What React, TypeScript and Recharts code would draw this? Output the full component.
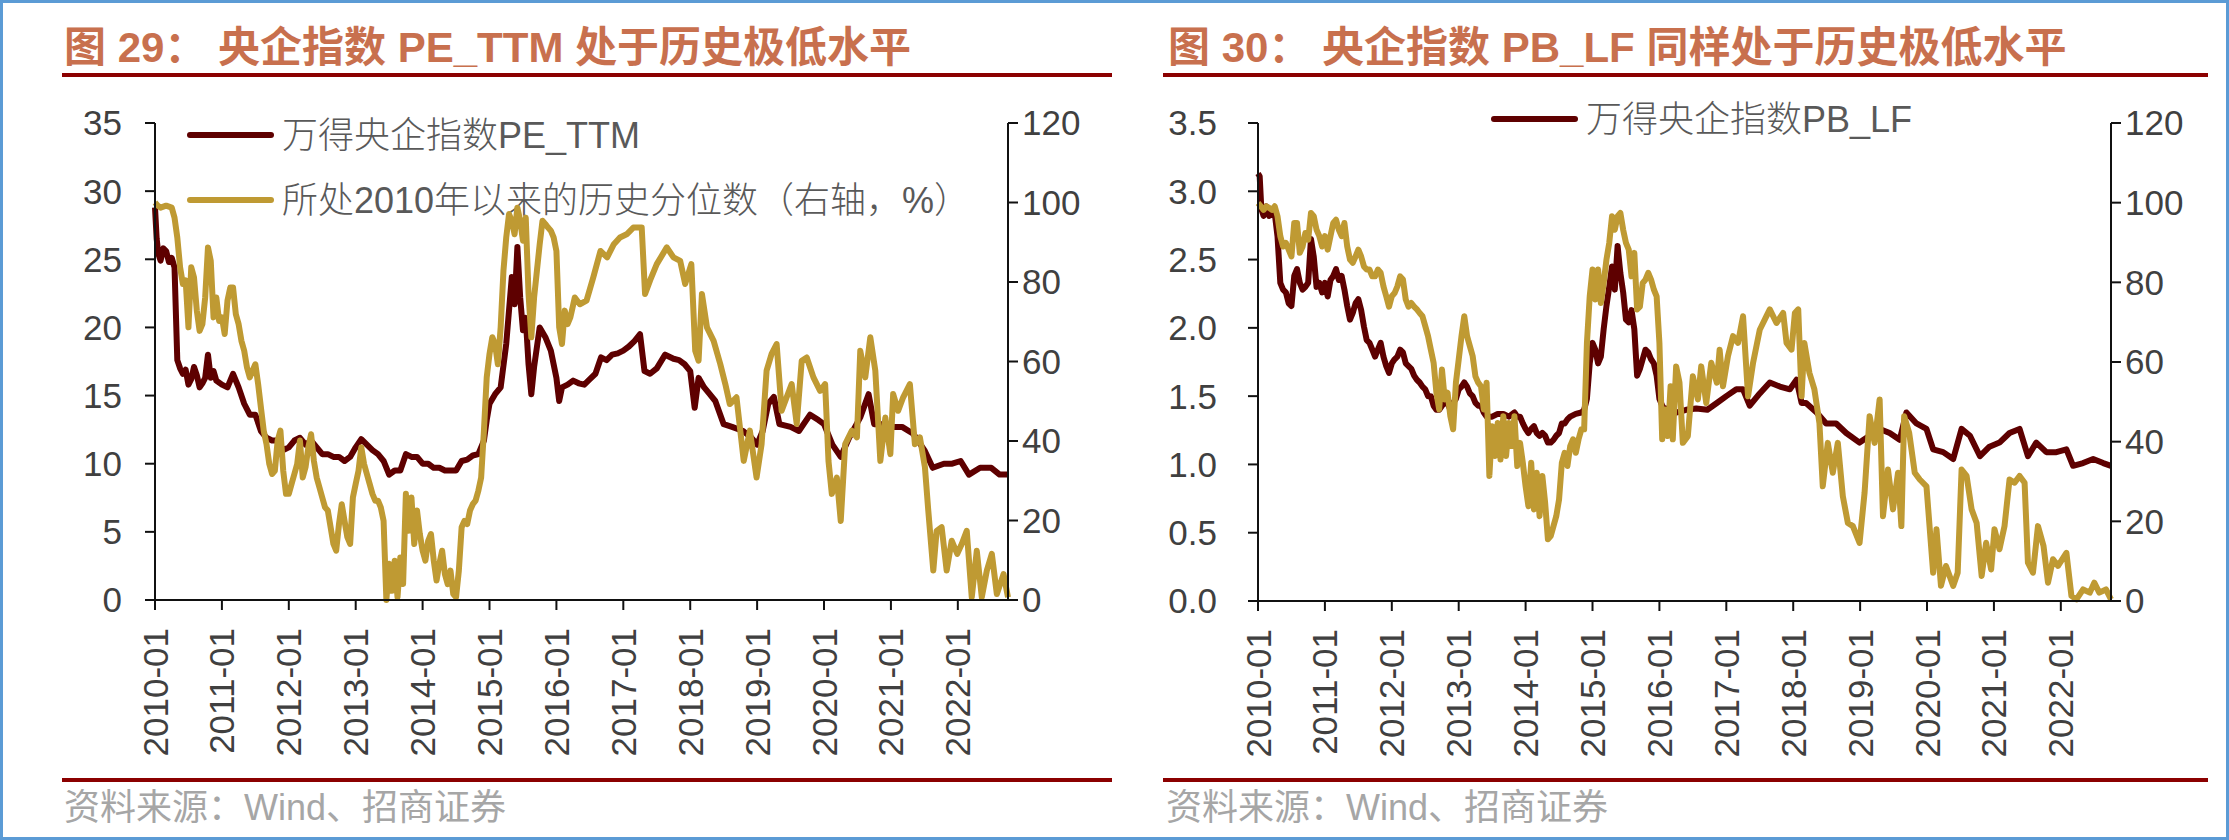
import React from 'react';
import { LineChart, Line, XAxis, YAxis } from 'recharts';

// x = months since 2010-01
const yearTicks = [0, 12, 24, 36, 48, 60, 72, 84, 96, 108, 120, 132, 144];
const yearLabels = [
  '2010-01', '2011-01', '2012-01', '2013-01', '2014-01', '2015-01', '2016-01',
  '2017-01', '2018-01', '2019-01', '2020-01', '2021-01', '2022-01',
];

const peTicks = [0, 5, 10, 15, 20, 25, 30, 35];
const pbTicks = [0, 0.5, 1, 1.5, 2, 2.5, 3, 3.5];
const pctTicks = [0, 20, 40, 60, 80, 100, 120];

// 万得央企指数PE_TTM
const peTtm: [number, number][] = [
  [0, 28.8], [0.3, 26.5], [0.6, 25.4], [1, 24.9], [1.5, 25.8], [2, 25.6], [2.5, 24.8], [3, 25.1],
  [3.5, 24.4], [4, 17.6], [4.5, 17.0], [5, 16.6], [5.5, 16.9], [6, 15.8], [6.5, 16.2], [7, 17.1],
  [7.5, 16.5], [8, 15.6], [8.5, 15.9], [9, 16.3], [9.5, 18.0], [10, 16.3], [10.5, 16.8], [11, 16.1],
  [12, 15.8], [13, 15.6], [14, 16.6], [15, 15.6], [16, 14.4], [17, 13.6], [18, 13.6], [19, 12.4],
  [20, 11.9], [21, 11.7], [22, 11.7], [23, 11.0], [24, 11.2], [25, 11.7], [26, 11.9], [27, 11.4],
  [28, 11.7], [29, 11.2], [30, 10.7], [31, 10.7], [32, 10.5], [33, 10.5], [34, 10.2], [35, 10.5],
  [36, 11.2], [37, 11.8], [38, 11.4], [39, 11.0], [40, 10.7], [41, 10.2], [42, 9.2], [43, 9.5],
  [44, 9.5], [45, 10.7], [46, 10.5], [47, 10.5], [48, 10.0], [49, 10.0], [50, 9.7], [51, 9.7],
  [52, 9.5], [53, 9.5], [54, 9.5], [55, 10.2], [56, 10.3], [57, 10.6], [58, 10.7], [59, 11.7],
  [59.5, 13.2], [60, 14.4], [61, 15.1], [62, 15.6], [63, 18.8], [64, 23.7], [64.5, 21.7], [65, 25.9],
  [65.5, 22.2], [66, 19.8], [66.5, 20.7], [67, 17.3], [67.5, 15.1], [68, 17.1], [69, 20.0], [70, 19.3],
  [71, 18.3], [72, 16.3], [72.5, 14.6], [73, 15.6], [74, 15.8], [75, 16.1], [76, 15.9], [77, 15.8],
  [78, 16.2], [79, 16.6], [80, 17.8], [81, 17.6], [82, 18.0], [83, 18.1], [84, 18.3], [85, 18.6],
  [86, 19.0], [87, 19.5], [87.8, 16.8], [88.8, 16.6], [90, 17.0], [91.5, 18.0], [93, 17.7], [94, 17.6],
  [95, 17.3], [96, 16.8], [96.8, 14.1], [97.5, 16.3], [98.5, 15.6], [99.5, 15.1], [100.5, 14.6], [102, 12.9],
  [103.5, 12.7], [105.5, 12.4], [107, 11.9], [108, 11.4], [109, 12.4], [110, 14.4], [111, 14.9], [112, 12.9],
  [114, 12.7], [115.5, 12.4], [117.5, 13.6], [119, 13.2], [120, 12.9], [121.5, 11.4], [123, 10.5], [124.5, 11.9],
  [126.5, 13.4], [128, 15.1], [129, 12.9], [130.5, 12.9], [132, 12.7], [134, 12.7], [136, 12.2], [138, 11.0],
  [139.5, 9.7], [141.5, 10.0], [143, 10.0], [144.5, 10.2], [146, 9.2], [148, 9.7], [150, 9.7], [151.5, 9.2],
  [153, 9.2],
];

// 所处2010年以来的历史分位数（PE，右轴，%）
const pePct: [number, number][] = [
  [0, 100], [0.5, 99.2], [1, 98.7], [2, 99.2], [3, 98.7], [3.5, 96.2], [4, 91.2], [4.5, 83.7],
  [5, 79.5], [5.5, 80.4], [6, 68.6], [6.5, 83.7], [7, 81.1], [7.5, 72.8], [8, 67.7], [8.5, 69.4],
  [9, 76.1], [9.5, 88.7], [10, 85.3], [10.5, 71.1], [11, 76.1], [11.5, 70.2], [12, 71.1], [12.5, 66.9],
  [13, 75.3], [13.5, 78.6], [14, 78.6], [14.5, 71.9], [15, 69.4], [15.5, 65.2], [16, 62.7], [16.5, 58.5],
  [17, 56.0], [17.5, 57.7], [18, 59.3], [18.5, 54.3], [19, 48.4], [19.5, 42.6], [20, 39.2], [20.5, 34.2],
  [21, 31.7], [21.5, 32.5], [22, 40.1], [22.5, 42.6], [23, 32.5], [23.5, 26.7], [24, 26.7], [24.5, 29.2],
  [25, 31.7], [25.5, 34.2], [26, 40.1], [26.5, 30.8], [27, 33.4], [27.5, 38.4], [28, 41.7], [28.5, 35.0],
  [29, 30.8], [29.5, 28.3], [30, 25.8], [30.5, 23.3], [31, 22.5], [31.5, 18.3], [32, 14.1], [32.5, 12.4],
  [33, 19.1], [33.5, 24.1], [34, 19.9], [34.5, 15.8], [35, 14.1], [35.5, 25.8], [36, 29.2], [36.5, 32.5],
  [37, 38.4], [37.5, 34.2], [38, 31.7], [38.5, 29.2], [39, 26.7], [39.5, 25.0], [40, 25.0], [40.5, 23.3],
  [41, 19.9], [41.5, 0], [42, 9.1], [42.5, 2.3], [43, 9.9], [43.5, 0.7], [44, 10.7], [44.5, 4.0],
  [45, 26.7], [45.5, 17.4], [46, 25.8], [46.5, 14.1], [47, 22.5], [47.5, 16.6], [48, 12.4], [48.5, 9.9],
  [49, 14.9], [49.5, 16.6], [50, 9.9], [50.5, 4.9], [51, 9.1], [51.5, 12.4], [52, 6.5], [52.5, 4.0],
  [53, 7.4], [53.5, 1.5], [54, 0.7], [54.5, 7.4], [55, 18.3], [55.5, 19.9], [56, 19.1], [56.5, 22.5],
  [57, 24.1], [57.5, 25.0], [58, 27.5], [58.5, 30.8], [59, 42.6], [59.5, 56.0], [60, 61.9], [60.5, 66.1],
  [61, 64.4], [61.5, 59.3], [62, 68.6], [62.5, 82.8], [63, 91.2], [63.5, 97.1], [64, 95.4], [64.5, 92.0],
  [65, 98.7], [65.5, 95.4], [66, 90.4], [66.5, 96.2], [67, 77.0], [67.5, 66.1], [68, 76.1], [68.5, 82.8],
  [69, 89.5], [69.5, 95.4], [70, 94.6], [70.5, 93.7], [71, 92.9], [71.5, 91.2], [72, 87.8], [72.5, 68.6],
  [73, 64.4], [73.5, 72.8], [74, 69.4], [74.5, 71.1], [75.3, 76.1], [76.2, 74.4], [77.4, 75.3], [78.6, 81.1],
  [79.9, 87.8], [81.1, 86.2], [82.3, 89.5], [83.4, 91.2], [84.6, 92.0], [85.8, 93.7], [87.3, 93.7], [87.9, 77.0],
  [88.8, 80.4], [90, 84.5], [91.8, 88.7], [93, 86.2], [94.2, 85.3], [95.1, 79.5], [96.2, 84.5], [96.9, 62.7],
  [97.5, 60.2], [98.1, 77.0], [99, 68.6], [100.2, 65.2], [101.4, 59.3], [102.3, 54.3], [103.1, 49.3], [104.3, 51.0],
  [105.6, 35.0], [106.7, 42.6], [107.9, 30.8], [108.8, 39.2], [109.7, 57.7], [110.6, 61.9], [111.5, 64.4], [112.4, 47.6],
  [113.3, 51.0], [114.2, 54.3], [115.1, 44.3], [116, 60.2], [116.9, 61.0], [118.1, 56.0], [119.3, 52.6], [120.2, 54.3],
  [120.8, 35.0], [121.4, 26.7], [122.3, 30.8], [123, 19.9], [123.8, 39.2], [125, 42.6], [125.9, 40.9], [126.5, 62.7],
  [127.4, 56.0], [128.3, 66.1], [129.2, 57.7], [130.1, 35.0], [131, 45.9], [131.9, 36.7], [132.4, 51.8], [133.3, 47.6],
  [134.2, 51.0], [135.4, 54.3], [136.3, 39.2], [137.2, 40.9], [138.1, 33.4], [138.7, 22.5], [139.6, 7.4], [140.2, 17.4],
  [141.1, 18.3], [142, 7.4], [142.9, 14.9], [143.9, 11.6], [144.7, 14.1], [145.6, 17.4], [146.5, 0.7], [147.4, 12.4],
  [148.3, 0.7], [149.2, 7.4], [150.1, 11.6], [151, 1.5], [152.2, 6.5], [153, 0.7],
];

// 万得央企指数PB_LF
const pbLf: [number, number][] = [
  [0, 3.13], [0.3, 3.11], [0.6, 2.87], [1, 2.82], [1.5, 2.89], [2, 2.82], [3, 2.84], [3.5, 2.67],
  [4, 2.33], [4.5, 2.28], [5, 2.26], [5.5, 2.18], [6, 2.16], [6.5, 2.38], [7, 2.43], [7.5, 2.33],
  [8, 2.28], [8.5, 2.30], [9, 2.33], [9.5, 2.65], [10, 2.52], [10.5, 2.30], [11, 2.33], [11.5, 2.26],
  [12, 2.33], [12.5, 2.23], [13, 2.35], [13.5, 2.38], [14, 2.43], [14.5, 2.35], [15, 2.38], [15.5, 2.28],
  [16, 2.16], [16.5, 2.06], [17, 2.11], [17.5, 2.18], [18, 2.21], [18.5, 2.13], [19, 2.01], [19.5, 1.91],
  [20, 1.89], [20.5, 1.84], [21, 1.79], [21.5, 1.84], [22, 1.89], [22.5, 1.79], [23, 1.72], [23.5, 1.67],
  [24, 1.74], [24.5, 1.77], [25, 1.79], [25.5, 1.84], [26, 1.82], [26.5, 1.74], [27, 1.72], [27.5, 1.70],
  [28, 1.65], [28.5, 1.62], [29, 1.60], [29.5, 1.57], [30, 1.55], [30.5, 1.50], [31, 1.50], [31.5, 1.43],
  [32, 1.40], [32.5, 1.40], [33, 1.43], [33.5, 1.45], [34, 1.45], [34.5, 1.40], [35, 1.45], [35.5, 1.48],
  [36, 1.55], [36.5, 1.57], [37, 1.60], [37.5, 1.57], [38, 1.52], [38.5, 1.50], [39, 1.45], [39.5, 1.43],
  [40, 1.43], [40.5, 1.38], [41, 1.35], [42, 1.35], [43, 1.37], [44, 1.37], [45, 1.35], [46, 1.38],
  [46.5, 1.35], [47, 1.35], [47.5, 1.30], [48, 1.26], [48.5, 1.23], [49, 1.26], [49.5, 1.28], [50, 1.23],
  [50.5, 1.21], [51, 1.23], [51.5, 1.21], [52, 1.16], [52.5, 1.16], [53, 1.18], [53.5, 1.21], [54, 1.23],
  [54.5, 1.30], [55, 1.30], [55.5, 1.33], [56, 1.35], [57, 1.37], [58, 1.38], [58.5, 1.40], [59, 1.48],
  [59.5, 1.74], [60, 1.89], [60.5, 1.84], [61, 1.74], [61.5, 1.79], [62, 1.99], [62.5, 2.16], [63, 2.30],
  [63.5, 2.45], [64, 2.28], [64.5, 2.60], [65, 2.40], [65.5, 2.26], [66, 2.06], [66.5, 2.04], [67, 2.13],
  [67.5, 1.99], [68, 1.65], [68.5, 1.70], [69, 1.77], [69.5, 1.84], [70, 1.82], [70.5, 1.77], [71, 1.74],
  [71.5, 1.65], [72, 1.48], [72.5, 1.43], [73, 1.40], [74, 1.42], [75, 1.38], [76.8, 1.40], [78.6, 1.41],
  [80.6, 1.40], [82.3, 1.45], [84, 1.50], [85.8, 1.55], [87, 1.55], [88.2, 1.43], [90, 1.52], [91.8, 1.60],
  [93.6, 1.57], [95.4, 1.55], [96.6, 1.62], [97.5, 1.45], [98.3, 1.45], [100.2, 1.38], [101.9, 1.30], [103.7, 1.30],
  [105.5, 1.23], [107.9, 1.16], [109.7, 1.21], [111.5, 1.26], [113.3, 1.23], [115.1, 1.18], [116.3, 1.38], [118.1, 1.30],
  [119.9, 1.26], [121.1, 1.11], [122.9, 1.09], [124.7, 1.04], [126.2, 1.26], [127.7, 1.21], [129.5, 1.06], [131.2, 1.13],
  [133, 1.16], [134.8, 1.23], [136.6, 1.26], [138.1, 1.06], [139.6, 1.16], [141.4, 1.09], [143.2, 1.09], [145, 1.11],
  [146.2, 0.99], [148, 1.01], [149.8, 1.04], [151.6, 1.01], [153, 0.99],
];

// 所处2010年以来的历史分位数（PB，右轴，%）
const pbPct: [number, number][] = [
  [0, 99.9], [0.5, 99.1], [1, 98.2], [1.5, 99.1], [2, 98.7], [2.5, 98.2], [3, 99.1], [3.5, 96.6],
  [4, 91.6], [4.5, 89.0], [5, 89.9], [5.5, 88.2], [6, 86.5], [6.5, 94.9], [7, 94.9], [7.5, 87.4],
  [8, 89.0], [8.5, 92.4], [9, 90.7], [9.5, 97.4], [10, 96.6], [10.5, 93.2], [11, 91.6], [11.5, 89.0],
  [12, 91.6], [12.5, 88.2], [13, 91.6], [13.5, 94.9], [14, 95.7], [14.5, 93.2], [15, 91.6], [15.5, 94.9],
  [16, 89.0], [16.5, 85.7], [17, 84.9], [17.5, 86.5], [18, 88.2], [18.5, 86.5], [19, 84.0], [19.5, 83.2],
  [20, 83.2], [20.5, 81.5], [21, 81.5], [21.5, 83.2], [22, 82.4], [22.5, 79.0], [23, 76.5], [23.5, 73.9],
  [24, 76.5], [24.5, 77.3], [25, 79.0], [25.5, 81.5], [26, 80.7], [26.5, 75.7], [27, 73.9], [27.5, 74.8],
  [28, 73.9], [28.5, 73.2], [29, 72.3], [29.5, 71.5], [30, 69.0], [30.5, 66.5], [31, 63.1], [31.5, 59.8],
  [32, 52.3], [32.5, 48.1], [33, 58.1], [33.5, 50.6], [34, 52.3], [34.5, 46.4], [35, 43.1], [35.5, 54.8],
  [36, 60.6], [36.5, 66.5], [37, 71.5], [37.5, 66.5], [38, 64.0], [38.5, 61.5], [39, 56.4], [39.5, 54.8],
  [40, 53.9], [40.5, 48.1], [41, 54.8], [41.5, 31.4], [42, 43.9], [42.5, 36.4], [43, 44.7], [43.5, 35.5],
  [44, 46.4], [44.5, 36.4], [45, 44.7], [45.5, 38.9], [46, 46.4], [46.5, 33.9], [47, 39.7], [47.5, 34.7],
  [48, 28.8], [48.5, 23.8], [49, 34.7], [49.5, 23.0], [50, 32.2], [50.5, 21.3], [51, 31.4], [51.5, 24.7],
  [52, 15.5], [52.5, 16.3], [53, 18.8], [53.5, 21.3], [54, 25.5], [54.5, 34.7], [55, 37.2], [55.5, 33.9],
  [56, 38.9], [56.5, 40.6], [57, 37.2], [57.5, 40.6], [58, 43.1], [58.5, 43.1], [59, 64.8], [59.5, 76.5],
  [60, 83.2], [60.5, 75.7], [61, 83.2], [61.5, 74.8], [62, 79.8], [62.5, 85.7], [63, 89.9], [63.5, 96.6],
  [64, 93.2], [64.5, 96.6], [65, 97.4], [65.5, 93.2], [66, 89.9], [66.5, 88.2], [67, 81.5], [67.5, 87.4],
  [68, 73.2], [68.5, 73.9], [69, 79.8], [69.5, 80.7], [70, 82.4], [70.5, 80.7], [71, 78.2], [71.5, 76.5],
  [72, 64.8], [72.5, 40.6], [73, 48.1], [73.5, 41.4], [74, 53.9], [74.4, 40.6], [75, 58.9], [75.6, 54.8],
  [76.2, 39.7], [77.1, 41.4], [78, 56.4], [78.9, 50.6], [79.5, 58.9], [80.4, 49.7], [81.3, 59.8], [82.3, 54.8],
  [82.8, 63.1], [83.4, 53.9], [84.3, 61.5], [85.2, 66.5], [86.1, 64.8], [87, 71.5], [87.9, 51.4], [88.8, 59.8],
  [90, 68.1], [91.2, 71.5], [91.8, 73.2], [93, 69.8], [94.2, 72.3], [94.8, 64.8], [95.7, 63.1], [96.3, 72.3],
  [96.9, 73.2], [97.5, 51.4], [98, 64.8], [98.9, 57.3], [99.8, 53.1], [100.7, 44.7], [101.3, 28.8], [102.2, 39.7],
  [103.1, 32.2], [104, 39.7], [104.9, 26.3], [105.8, 19.6], [106.7, 18.8], [107.9, 14.6], [108.8, 27.2], [109.7, 46.4],
  [110.6, 39.7], [111.5, 50.6], [112.1, 21.3], [113, 33.0], [113.9, 23.0], [114.8, 32.2], [115.4, 18.8], [115.9, 46.4],
  [116.8, 42.2], [117.8, 32.2], [118.7, 30.5], [119.9, 28.8], [121.1, 7.1], [121.7, 18.0], [122.5, 3.8], [123.4, 8.8],
  [124.7, 3.8], [125.5, 7.1], [126.2, 33.0], [127.1, 31.4], [128, 23.0], [128.9, 19.6], [129.8, 6.3], [130.6, 14.6],
  [131.5, 7.9], [132.1, 18.0], [133, 13.0], [133.9, 18.8], [134.8, 30.5], [135.7, 29.7], [136.6, 31.4], [137.5, 29.7],
  [138.1, 9.6], [139, 7.1], [139.9, 18.8], [140.9, 13.8], [141.7, 4.6], [142.6, 10.5], [143.5, 8.8], [145, 12.1],
  [145.9, 1.3], [146.8, 0.4], [148, 2.9], [149.2, 2.1], [150, 4.6], [150.9, 2.1], [152.1, 2.9], [153, 0.4],
];

const FONT = "'Liberation Sans', Arial, 'Noto Sans CJK SC', sans-serif";
const RED = '#5E0000';
const GOLD = '#BF9A33';
const AXIS = { stroke: '#111', strokeWidth: 2 };
const TICK = { fontSize: 35, fill: '#404040', fontFamily: FONT };

const toRows = (pts: [number, number][]) => pts.map(([m, v]) => ({ m, v }));

const YearTick = (props: any) => {
  const { x, y, payload } = props;
  return (
    <text
      x={x}
      y={y}
      transform={`rotate(-90 ${x} ${y})`}
      textAnchor="end"
      dominantBaseline="central"
      fontSize={35}
      fill="#404040"
      fontFamily={FONT}
    >
      {yearLabels[Math.round(payload.value / 12)]}
    </text>
  );
};

interface PanelProps {
  left: number;
  width: number;
  leftAxisWidth: number;
  rightAxisWidth: number;
  xAxisHeight: number;
  leftTicks: number[];
  leftMargin: number;
  leftFormat?: (v: number) => string;
  values: [number, number][];
  pct: [number, number][];
}

const Panel = ({
  left, width, leftAxisWidth, rightAxisWidth, xAxisHeight,
  leftTicks, leftMargin, leftFormat, values, pct,
}: PanelProps) => (
  <div style={{ position: 'absolute', left, top: 0 }}>
    <LineChart width={width} height={840} margin={{ top: 123, right: 0, bottom: 0, left: 0 }}>
      <XAxis
        type="number"
        dataKey="m"
        domain={[0, 153]}
        ticks={yearTicks}
        height={xAxisHeight}
        tick={<YearTick />}
        tickSize={10}
        tickMargin={18}
        axisLine={AXIS}
        tickLine={AXIS}
      />
      <YAxis
        yAxisId="left"
        domain={[leftTicks[0], leftTicks[leftTicks.length - 1]]}
        ticks={leftTicks}
        tickFormatter={leftFormat}
        width={leftAxisWidth}
        tick={TICK}
        tickSize={10}
        tickMargin={leftMargin}
        axisLine={AXIS}
        tickLine={AXIS}
        interval={0}
      />
      <YAxis
        yAxisId="right"
        orientation="right"
        domain={[0, 120]}
        ticks={pctTicks}
        width={rightAxisWidth}
        tick={{ ...TICK, textAnchor: 'start' }}
        tickSize={10}
        tickMargin={4}
        axisLine={AXIS}
        tickLine={AXIS}
        interval={0}
      />
      <Line
        yAxisId="left"
        data={toRows(values)}
        dataKey="v"
        type="linear"
        stroke={RED}
        strokeWidth={6}
        strokeLinejoin="round"
        dot={false}
        isAnimationActive={false}
      />
      <Line
        yAxisId="right"
        data={toRows(pct)}
        dataKey="v"
        type="linear"
        stroke={GOLD}
        strokeWidth={6}
        strokeLinejoin="round"
        dot={false}
        isAnimationActive={false}
      />
    </LineChart>
  </div>
);

const TITLE_COLOR = '#C8704E';
const RULE_COLOR = '#8B0000';

const App = () => (
  <div style={{ position: 'absolute', left: 0, top: 0, width: 2229, height: 840, background: '#fff' }}>
    <svg width={2229} height={840} style={{ position: 'absolute', left: 0, top: 0 }}>
      <rect x={1.5} y={1.5} width={2226} height={837} fill="none" stroke="#5B9BD5" strokeWidth={3} />

      <text x={64} y={62} fontSize={42} fontWeight="bold" fill={TITLE_COLOR} fontFamily={FONT}>
        图 29： 央企指数 PE_TTM 处于历史极低水平
      </text>
      <text x={1168} y={62} fontSize={42} fontWeight="bold" fill={TITLE_COLOR} fontFamily={FONT}>
        图 30： 央企指数 PB_LF 同样处于历史极低水平
      </text>
      <line x1={62} x2={1112} y1={75} y2={75} stroke={RULE_COLOR} strokeWidth={4} />
      <line x1={1163} x2={2208} y1={75} y2={75} stroke={RULE_COLOR} strokeWidth={4} />

      <line x1={190} x2={271} y1={135} y2={135} stroke={RED} strokeWidth={6} strokeLinecap="round" />
      <text x={282} y={135} fontSize={36} fontWeight={300} fill="#595959" fontFamily={FONT} dominantBaseline="central">
        万得央企指数PE_TTM
      </text>
      <line x1={190} x2={271} y1={200} y2={200} stroke={GOLD} strokeWidth={6} strokeLinecap="round" />
      <text x={282} y={200} fontSize={36} fontWeight={300} fill="#595959" fontFamily={FONT} dominantBaseline="central">
        所处2010年以来的历史分位数（右轴，%）
      </text>
      <line x1={1494} x2={1575} y1={119} y2={119} stroke={RED} strokeWidth={6} strokeLinecap="round" />
      <text x={1586} y={119} fontSize={36} fontWeight={300} fill="#595959" fontFamily={FONT} dominantBaseline="central">
        万得央企指数PB_LF
      </text>

      <line x1={62} x2={1112} y1={780} y2={780} stroke={RULE_COLOR} strokeWidth={4} />
      <line x1={1163} x2={2208} y1={780} y2={780} stroke={RULE_COLOR} strokeWidth={4} />
      <text x={64} y={807} fontSize={36} fill="#A6A6A6" fontFamily={FONT} dominantBaseline="central">
        资料来源：Wind、招商证券
      </text>
      <text x={1166} y={807} fontSize={36} fill="#A6A6A6" fontFamily={FONT} dominantBaseline="central">
        资料来源：Wind、招商证券
      </text>
    </svg>

    <Panel
      left={0}
      width={1115}
      leftAxisWidth={155}
      rightAxisWidth={107}
      xAxisHeight={240}
      leftTicks={peTicks}
      leftMargin={23}
      values={peTtm}
      pct={pePct}
    />
    <Panel
      left={1115}
      width={1114}
      leftAxisWidth={143}
      rightAxisWidth={118}
      xAxisHeight={239}
      leftTicks={pbTicks}
      leftMargin={31}
      leftFormat={(v: number) => v.toFixed(1)}
      values={pbLf}
      pct={pbPct}
    />
  </div>
);

export default App;
